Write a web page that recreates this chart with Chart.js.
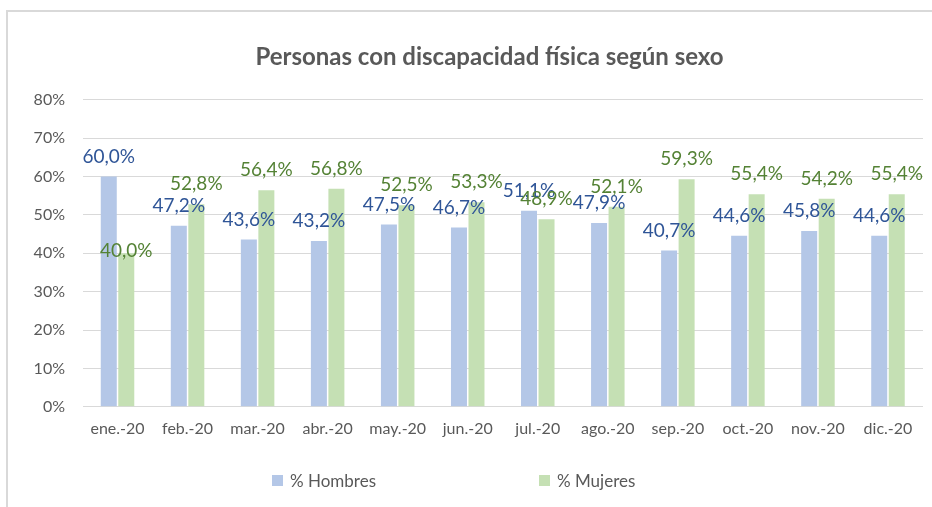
<!DOCTYPE html>
<html lang="es">
<head>
<meta charset="utf-8">
<title>Personas con discapacidad física según sexo</title>
<script src="https://cdn.jsdelivr.net/npm/chart.js@4.4.1/dist/chart.umd.min.js"></script>
<style>
  html, body { margin: 0; padding: 0; background: #fff; overflow: hidden; }
  body { width: 932px; height: 507px; position: relative; }
  .frame {
    position: absolute; left: 6px; top: 10px;
    border-left: 2px solid #d9d9d9; border-top: 2px solid #d9d9d9;
    width: 963px; height: 495px;
  }
  canvas { display: block; }
  .legend {
    position: absolute; left: 272px; top: 470px;
    display: flex; font-family: Lato, sans-serif; font-size: 17px; color: #595959;
  }
  .legend .item { width: 267px; display: flex; align-items: center; }
  .legend .box { width: 11px; height: 11px; margin-right: 7px; }
</style>
</head>
<body>
<div class="frame"><canvas id="chart" width="963" height="495"></canvas></div>
<div class="legend" id="legend"></div>
<script>
const categories = ['ene.-20', 'feb.-20', 'mar.-20', 'abr.-20', 'may.-20', 'jun.-20',
                    'jul.-20', 'ago.-20', 'sep.-20', 'oct.-20', 'nov.-20', 'dic.-20'];
const hombres = [60.0, 47.2, 43.6, 43.2, 47.5, 46.7, 51.1, 47.9, 40.7, 44.6, 45.8, 44.6];
const mujeres = [40.0, 52.8, 56.4, 56.8, 52.5, 53.3, 48.9, 52.1, 59.3, 55.4, 54.2, 55.4];

const fmt = v => v.toFixed(1).replace('.', ',') + '%';

// value labels above each bar (no datalabels plugin available)
const barLabels = {
  id: 'barLabels',
  afterDatasetsDraw(chart, args, opts) {
    const ctx = chart.ctx;
    ctx.save();
    ctx.font = opts.size + 'px ' + opts.family;
    ctx.textAlign = 'center';
    ctx.textBaseline = 'middle';
    chart.data.datasets.forEach((ds, di) => {
      const meta = chart.getDatasetMeta(di);
      ctx.fillStyle = ds.labelColor;
      meta.data.forEach((bar, i) => {
        const nudge = (opts.nudge[di] && opts.nudge[di][i]) || 0;
        ctx.fillText(fmt(ds.data[i]), bar.x, bar.y - opts.offset + nudge);
      });
    });
    ctx.restore();
  }
};

Chart.defaults.font.family = 'Lato, sans-serif';
Chart.defaults.color = '#595959';

const chart = new Chart(document.getElementById('chart'), {
  type: 'bar',
  data: {
    labels: categories,
    datasets: [
      { label: '% Hombres', data: hombres, backgroundColor: '#b4c7e7', labelColor: '#2f5597' },
      { label: '% Mujeres', data: mujeres, backgroundColor: '#c5e0b4', labelColor: '#548235' }
    ]
  },
  options: {
    responsive: false,
    animation: false,
    categoryPercentage: 0.5,
    barPercentage: 0.914,
    layout: { padding: { left: 0, right: 0, top: 0, bottom: 57 } },
    plugins: {
      legend: { display: false },
      tooltip: { enabled: false },
      title: {
        display: true,
        text: 'Personas con discapacidad física según sexo',
        color: '#595959',
        font: { size: 24, weight: 'bold' },
        padding: { top: 31, bottom: 28 }
      },
      barLabels: { size: 19, family: 'Lato, sans-serif', offset: 20, nudge: { 1: { 0: 18 } } }
    },
    scales: {
      x: {
        grid: { display: false, drawTicks: false },
        border: { display: false },
        ticks: { padding: 12, font: { size: 16 }, color: '#595959' }
      },
      y: {
        min: 0, max: 80,
        afterFit: scale => { scale.width = 74.5; },
        grid: { color: '#d9d9d9', lineWidth: 1, drawTicks: false },
        border: { display: false },
        ticks: { stepSize: 10, padding: 17.5, font: { size: 16 }, color: '#595959',
                 callback: v => v + '%' }
      },
      // empty right-hand box: keeps the plot clear of the right edge while the title stays centred on the canvas
      spacer: {
        position: 'right',
        afterFit: scale => { scale.width = 48; },
        grid: { display: false, drawTicks: false },
        border: { display: false },
        ticks: { display: false }
      }
    }
  },
  plugins: [barLabels]
});

// legend in HTML so the two entries can sit far apart like the original
document.getElementById('legend').innerHTML = chart.data.datasets.map(ds =>
  '<div class="item"><span class="box" style="background:' + ds.backgroundColor + '"></span>' + ds.label + '</div>'
).join('');
</script>
</body>
</html>
